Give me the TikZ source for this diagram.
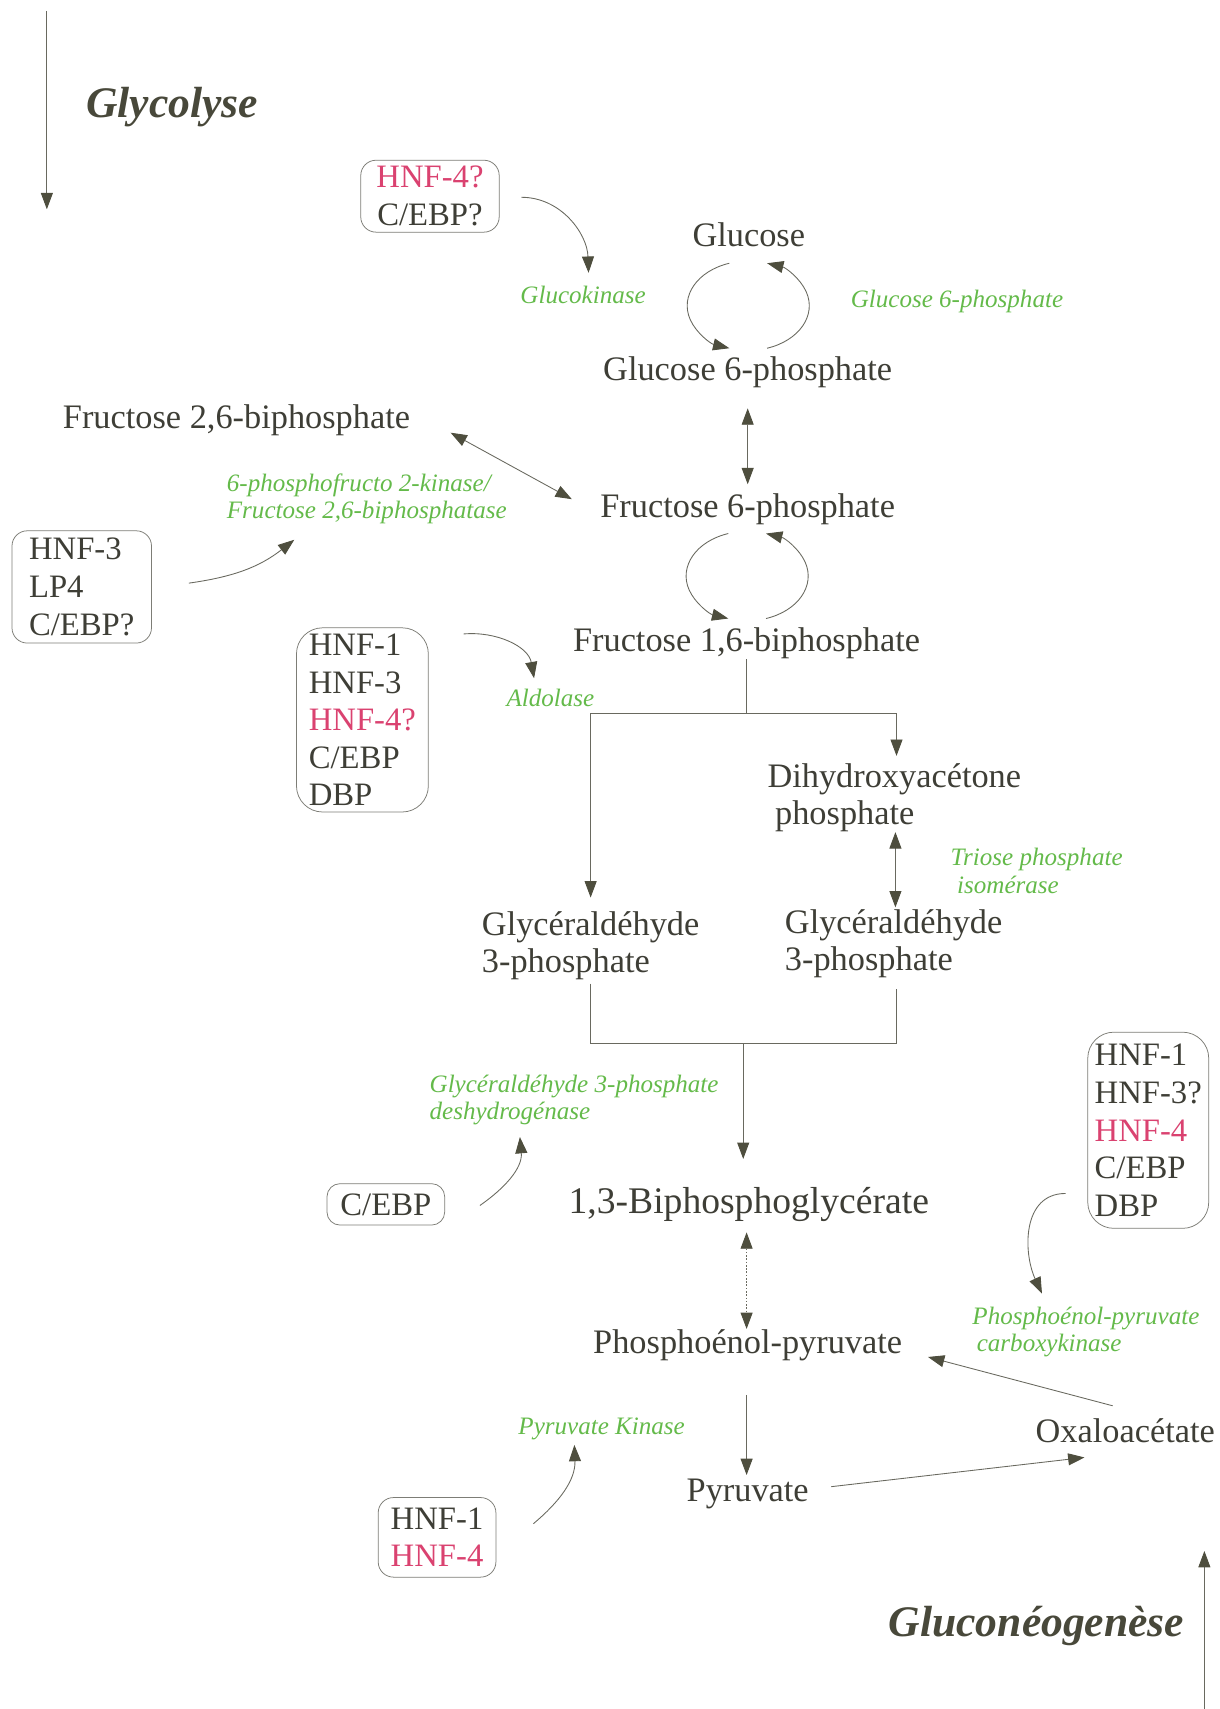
\documentclass[tikz,border=0pt]{standalone}
\usepackage{fontspec}
\setmainfont{Liberation Serif}
\usetikzlibrary{arrows.meta,calc}

\definecolor{ink}{RGB}{62,62,54}
\definecolor{wire}{RGB}{105,105,95}
\definecolor{tipcol}{RGB}{78,78,62}
\definecolor{enz}{RGB}{100,186,74}
\definecolor{hnfpink}{RGB}{218,66,112}
\definecolor{frame}{RGB}{125,125,118}
\definecolor{headcol}{RGB}{72,72,58}

\tikzset{
  met/.style={font=\fontsize{31.5}{35}\selectfont, text=ink, inner sep=0pt,
              text height=22pt, text depth=7pt},
  metml/.style={font=\fontsize{31.5}{34}\selectfont, text=ink, inner sep=0pt,
              align=left, anchor=west},
  enzyme/.style={font=\fontsize{23}{25}\selectfont\itshape, text=enz, inner sep=0pt,
              text height=16pt, text depth=5pt},
  enzml/.style={font=\fontsize{23}{25}\selectfont\itshape, text=enz, inner sep=0pt,
              align=left, anchor=west},
  tfbox/.style={draw=frame, line width=0.7pt, rounded corners=14pt,
              font=\fontsize{30}{34.5}\selectfont, text=ink, inner sep=0pt},
  flow/.style={draw=wire, line width=0.8pt,
              -{Triangle[length=15pt,width=11pt,color=tipcol]}},
  twoway/.style={draw=wire, line width=0.8pt,
              {Triangle[length=15pt,width=11pt,color=tipcol]}-{Triangle[length=15pt,width=11pt,color=tipcol]}},
  wireline/.style={draw=wire, line width=0.8pt},
  pathhead/.style={font=\fontsize{40}{44}\selectfont\bfseries\itshape, text=headcol, inner sep=0pt}
}

\begin{document}
\begin{tikzpicture}[x=1pt,y=1pt]
\useasboundingbox (0,0) rectangle (1119,-1568);

% pathway direction headings
\node[pathhead] (glyco) at (158,-98) {Glycolyse};
\node[pathhead] (neo) at (951,-1492) {Gluconéogenèse};
\coordinate (glytop) at (43,-10);
\coordinate (glybot) at (43,-192);
\coordinate (neobot) at (1105,-1568);
\coordinate (neotop) at (1105,-1423);
\draw[flow] (glytop) -- (glybot);
\draw[flow] (neobot) -- (neotop);

% metabolites
\node[met] (glc) at (687,-219) {Glucose};
\node[met] (g6p) at (686,-342) {Glucose 6-phosphate};
\node[met] (f26) at (217,-386) {Fructose 2,6-biphosphate};
\node[met] (f6p) at (686,-467) {Fructose 6-phosphate};
\node[met] (f16) at (685,-590) {Fructose 1,6-biphosphate};
\node[metml] (dhap) at (704,-732) {Dihydroxyacétone\\\hspace{7pt}phosphate};
\node[metml] (gapl) at (442,-868) {Glycéraldéhyde\\3-phosphate};
\node[metml] (gapr) at (720,-866) {Glycéraldéhyde\\3-phosphate};
\node[met, font=\fontsize{34.5}{38}\selectfont] (bpg) at (687,-1106) {1,3-Biphosphoglycérate};
\node[met] (pep) at (686,-1234) {Phosphoénol-pyruvate};
\node[met] (pyr) at (686,-1370) {Pyruvate};
\node[met, anchor=west] (oaa) at (950,-1316) {Oxaloacétate};

% enzymes
\node[enzyme] (gk) at (535,-273) {Glucokinase};
\node[enzyme] (g6pase) at (878,-277) {Glucose 6-phosphate};
\node[enzml] (pfk2) at (208,-458) {6-phosphofructo 2-kinase/\\Fructose 2,6-biphosphatase};
\node[enzyme] (ald) at (505,-643) {Aldolase};
\node[enzml] (tpi) at (872,-799) {Triose phosphate\\\hspace{6pt}isomérase};
\node[enzml] (gapdh) at (394,-1009) {Glycéraldéhyde 3-phosphate\\deshydrogénase};
\node[enzml] (pepck) at (892,-1222) {Phosphoénol-pyruvate\\\hspace{4pt}carboxykinase};
\node[enzyme] (pk) at (552,-1311) {Pyruvate Kinase};

% transcription factor boxes
\node[tfbox, minimum width=127pt, minimum height=66pt, align=center] (b1) at (394.5,-180)
  {\textcolor{hnfpink}{HNF-4?}\\C/EBP?};
\node[tfbox, minimum width=128pt, minimum height=103pt, align=left] (b2) at (75,-538.5)
  {HNF-3\\LP4\\C/EBP?};
\node[tfbox, rounded corners=24pt, minimum width=121pt, minimum height=169pt, align=left] (b3) at (332.5,-660.5)
  {HNF-1\\HNF-3\\\textcolor{hnfpink}{HNF-4?}\\C/EBP\\DBP};
\node[tfbox, rounded corners=24pt, minimum width=111pt, minimum height=180pt, align=left] (b4) at (1053.5,-1037)
  {HNF-1\\HNF-3?\\\textcolor{hnfpink}{HNF-4}\\C/EBP\\DBP};
\node[tfbox, rounded corners=12pt, minimum width=108pt, minimum height=38pt] (b5) at (354,-1105) {C/EBP};
\node[tfbox, minimum width=108pt, minimum height=73pt, align=center] (b6) at (401,-1410.5)
  {HNF-1\\\textcolor{hnfpink}{HNF-4}};

% regulation arrows
\draw[flow] ([shift={(20,-1)}]b1.east) to[out=0,in=92] ([shift={(5,12)}]gk.north);
\draw[flow] ([shift={(34,3.5)}]b2.east) to[out=8,in=-142] ([shift={(62,-14)}]pfk2.south west);
\draw[flow] ([shift={(32,-6)}]b3.north east) to[out=5,in=100] ([shift={(-15,10)}]ald.north);
\draw[flow] ([shift={(32,-1)}]b5.east) to[out=35,in=-85] ([shift={(83,-11)}]gapdh.south west);
\draw[flow] ([shift={(-20,-58)}]b4.west) to[out=180,in=115,looseness=1.1] ([shift={(64,12)}]pepck.north west);
\draw[flow] ([shift={(34,12.5)}]b6.east) to[out=40,in=-88] ([shift={(-25,-4)}]pk.south);

% glucose / glucose 6-phosphate cycle
\coordinate (cyc1) at ($(glc)!0.5!(g6p)$);
\draw[flow] ($(cyc1)+(108:56 and 41)$) arc[start angle=108, end angle=252, x radius=56, y radius=41];
\draw[flow] ($(cyc1)+(-72:56 and 41)$) arc[start angle=-72, end angle=72, x radius=56, y radius=41];

% fructose 6-phosphate / fructose 1,6-biphosphate cycle
\coordinate (cyc2) at ($(f6p)!0.5!(f16)$);
\draw[flow] ($(cyc2)+(108:56 and 41)$) arc[start angle=108, end angle=252, x radius=56, y radius=41];
\draw[flow] ($(cyc2)+(-72:56 and 41)$) arc[start angle=-72, end angle=72, x radius=56, y radius=41];

% main pathway
\draw[twoway] ([yshift=-18pt]g6p.south) -- ([yshift=8pt]f6p.north);
\draw[twoway] ([shift={(37,-11)}]f26.east) -- ([shift={(-26,9)}]f6p.west);

\coordinate (split) at ([yshift=-50pt]f16.south);
\draw[wireline] (f16.south) -- (split);
\draw[flow] (split) -| ([yshift=13pt]gapl.north);
\draw[flow] (split) -| ([shift={(2,7)}]dhap.north);
\draw[twoway] ([xshift=1pt]dhap.south) -- ([shift={(1,2)}]dhap.south |- gapr.north);

\draw[wireline] ([yshift=-3pt]gapl.south) |- ([shift={(3,-60)}]gapr.south) -- ([shift={(3,-10)}]gapr.south);
\coordinate (merge) at ($(gapl.south)!0.5!(gapr.south)+(1,-59)$);
\coordinate (bpgin) at ([yshift=28pt]bpg.north);
\draw[flow] (merge) -- (merge |- bpgin);

\draw[twoway, dash pattern=on 1.5pt off 1.5pt]
      ([shift={(-2,-10)}]bpg.south) -- ([shift={(-1,0)}]pep.north);
\draw[flow] ([shift={(-1,-31)}]pep.south) -- ([shift={(-1,2)}]pyr.north);
\draw[flow] ([shift={(-11.5,11.5)}]oaa.north) -- ([shift={(23.5,-11)}]pep.east);
\draw[flow] ([shift={(20.5,6)}]pyr.east) -- ([shift={(45,-6.5)}]oaa.south west);

\end{tikzpicture}
\end{document}
